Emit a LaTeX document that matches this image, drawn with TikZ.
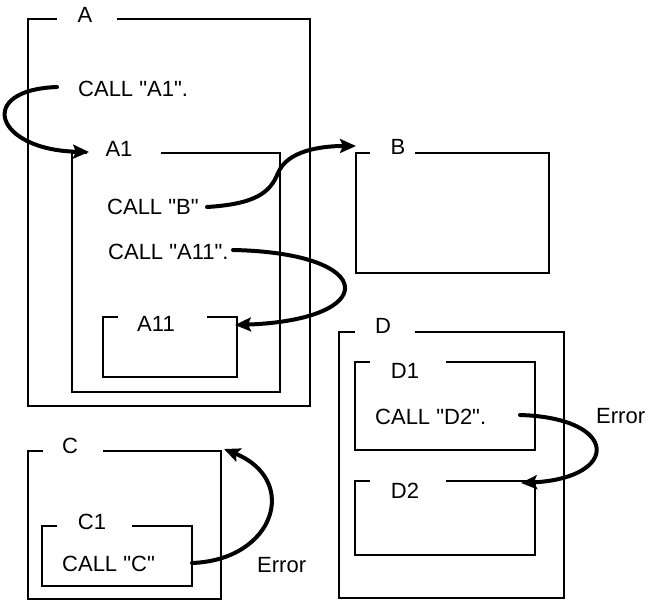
\documentclass[tikz,border=0pt]{standalone}
\usepackage{fontspec}
\setmainfont{Liberation Sans}[Ligatures=TeXOff]
\usetikzlibrary{arrows.meta}
\tikzset{
  boxline/.style={line width=1.2pt, line join=miter},
  lbl/.style={inner sep=0pt, anchor=base, font=\fontsize{22}{24}\selectfont},
  txt/.style={inner sep=0pt, anchor=base west, font=\fontsize{22}{24}\selectfont},
  callarrow/.style={line width=4pt, line cap=round, -{Stealth[length=16pt,width=14pt,inset=3pt]}}
}
\begin{document}
\begin{tikzpicture}[x=1pt,y=1pt]
\useasboundingbox (0,0) rectangle (647,-601);
% boxes with gap in top line
% A
\draw[boxline] (117,-19) -- (310,-19) -- (310,-406) -- (28,-406) -- (28,-19) -- (57,-19);
\node[lbl] (labA) at (85,-23) {A};
% A1
\draw[boxline] (161,-153) -- (280,-153) -- (280,-392) -- (72,-392) -- (72,-153) -- (87,-153);
\node[lbl] (labA1) at (119,-157) {A1};
% A11
\draw[boxline] (207,-317) -- (237,-317) -- (237,-377) -- (103,-377) -- (103,-317) -- (118,-317);
\node[lbl] (labA11) at (156,-331) {A11};
% B
\draw[boxline] (415,-153) -- (549,-153) -- (549,-273) -- (356,-273) -- (356,-153) -- (370,-153);
\node[lbl] (labB) at (398,-155) {B};
% C
\draw[boxline] (103,-451) -- (221,-451) -- (221,-599) -- (28,-599) -- (28,-451) -- (43,-451);
\node[lbl] (labC) at (70,-453) {C};
% C1
\draw[boxline] (132,-526) -- (192,-526) -- (192,-586) -- (42,-586) -- (42,-526) -- (57,-526);
\node[lbl] (labC1) at (92,-529) {C1};
% D
\draw[boxline] (415,-332) -- (564,-332) -- (564,-598) -- (339,-598) -- (339,-332) -- (355,-332);
\node[lbl] (labD) at (383,-333) {D};
% D1
\draw[boxline] (446,-362) -- (535,-362) -- (535,-450) -- (355,-450) -- (355,-362) -- (370,-362);
\node[lbl] (labD1) at (405,-378) {D1};
% D2
\draw[boxline] (446,-481) -- (535,-481) -- (535,-555) -- (355,-555) -- (355,-481) -- (370,-481);
\node[lbl] (labD2) at (405,-498) {D2};

% texts
\node[txt] (callA1) at (78,-97) {CALL "A1".};
\node[txt] (callB) at (107,-215) {CALL "B"};
\node[txt] (callA11) at (108,-260) {CALL "A11".};
\node[txt] (callD2) at (375,-424) {CALL "D2".};
\node[txt] (callC) at (62,-571) {CALL "C"};
\node[txt] (errC) at (257,-572) {Error};
\node[txt] (errD) at (596,-423) {Error};

% arrow endpoints
\coordinate (sA1) at (57,-87);
\coordinate (tA1) at (89,-152);
\coordinate (sB) at (207,-207);
\coordinate (mB) at (278,-173);
\coordinate (tB) at (356,-146);
\coordinate (sA11) at (233,-250);
\coordinate (tA11) at (235,-325);
\coordinate (sD2) at (520,-415);
\coordinate (tD2) at (521,-483);
\coordinate (sC) at (192,-563);
\coordinate (tC) at (224,-449);

% arrows
\draw[callarrow] (sA1) .. controls (-25,-90) and (-5,-150) .. (tA1);
\draw[callarrow] (sB) .. controls (255,-204) and (270,-193) .. (mB) .. controls (287,-151) and (320,-146) .. (tB);
\draw[callarrow] (sA11) .. controls (380,-253) and (380,-320) .. (tA11);
\draw[callarrow] (sD2) .. controls (620,-418) and (620,-478) .. (tD2);
\draw[callarrow] (sC) .. controls (275,-560) and (300,-480) .. (tC);
\end{tikzpicture}
\end{document}
